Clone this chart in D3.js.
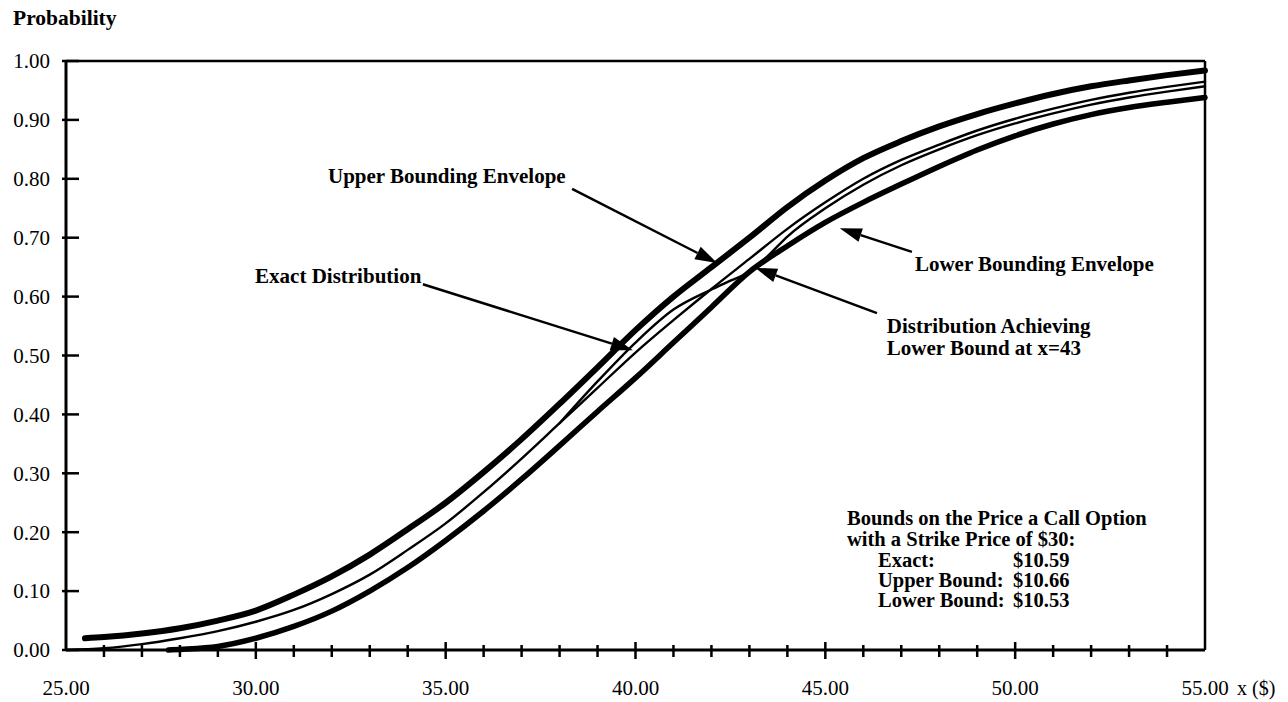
<!DOCTYPE html>
<html>
<head>
<meta charset="utf-8">
<script src="https://cdn.jsdelivr.net/npm/d3@7"></script>
<style>
  body { margin: 0; background: #fff; }
  text { font-family: "Liberation Serif", "Times New Roman", serif; fill: #000; }
  .bold { font-weight: bold; }
</style>
</head>
<body>
<div id="chart"></div>
<script>
// probability curves
var upperX = [25.5, 26, 27, 28, 29, 30, 31, 32, 33, 34, 35, 36, 37, 38, 39, 40,
    41, 42, 43, 44, 45, 46, 47, 48, 49, 50, 51, 52, 53, 54, 55];
var upperP = [0.020, 0.022, 0.028, 0.037, 0.050, 0.067, 0.094, 0.125, 0.162, 0.205, 0.250,
    0.302, 0.358, 0.418, 0.480, 0.543, 0.600, 0.650, 0.700, 0.752, 0.797, 0.835,
    0.864, 0.889, 0.910, 0.928, 0.944, 0.957, 0.967, 0.976, 0.984];

var lowerX = [27.7, 28, 29, 30, 31, 32, 33, 34, 35, 36, 37, 38, 39, 40,
    41, 42, 43, 44, 45, 46, 47, 48, 49, 50, 51, 52, 53, 54, 55];
var lowerP = [0.000, 0.001, 0.006, 0.020, 0.040, 0.066, 0.100, 0.140, 0.186, 0.236,
    0.290, 0.347, 0.405, 0.462, 0.522, 0.582, 0.642, 0.686, 0.726, 0.760, 0.791,
    0.821, 0.849, 0.873, 0.893, 0.909, 0.921, 0.930, 0.938];

var exactX = [25, 26, 27, 28, 29, 30, 31, 32, 33, 34, 35, 36, 37, 38, 39, 40,
    41, 42, 43, 44, 45, 46, 47, 48, 49, 50, 51, 52, 53, 54, 55];
var exactP = [0.000, 0.003, 0.010, 0.020, 0.032, 0.048, 0.068, 0.095, 0.128, 0.170,
    0.215, 0.268, 0.325, 0.385, 0.445, 0.505, 0.560, 0.613, 0.664, 0.715, 0.760,
    0.800, 0.832, 0.858, 0.882, 0.902, 0.919, 0.934, 0.946, 0.956, 0.965];

// distribution achieving the lower bound at x=43 (same as exact below x=38)
var achX = [38, 39, 40, 41, 42, 42.5, 43, 43.5, 44, 45, 46, 47, 48, 49, 50, 51, 52, 53, 54, 55];
var achP = [0.385, 0.456, 0.522, 0.578, 0.612, 0.627, 0.642, 0.670, 0.702, 0.750,
    0.790, 0.823, 0.850, 0.874, 0.894, 0.911, 0.926, 0.938, 0.948, 0.957];

var xTicks = [25, 30, 35, 40, 45, 50, 55];
var yTicks = [0, 0.1, 0.2, 0.3, 0.4, 0.5, 0.6, 0.7, 0.8, 0.9, 1.0];

var boxTitle = ["Bounds on the Price a Call Option", "with a Strike Price of $30:"];
var boxNames = ["Exact:", "Upper Bound:", "Lower Bound:"];
var boxValues = ["$10.59", "$10.66", "$10.53"];

var margin = { top: 61, right: 83, bottom: 52, left: 66 },
    width = 1288 - margin.left - margin.right,
    height = 702 - margin.top - margin.bottom;

var svg = d3.select("#chart")
    .append("svg")
    .attr("width", 1288)
    .attr("height", 702)
    .append("g")
    .attr("transform", "translate(" + margin.left + "," + margin.top + ")");

var x = d3.scaleLinear().domain([25, 55]).range([0, width]);
var y = d3.scaleLinear().domain([0, 1]).range([height, 0]);

// frame: top and right
svg.append("line")
    .attr("x1", 0).attr("x2", width).attr("y1", y(1)).attr("y2", y(1))
    .attr("stroke", "#000").attr("stroke-width", 2.5);
svg.append("line")
    .attr("x1", width).attr("x2", width).attr("y1", y(1)).attr("y2", y(0))
    .attr("stroke", "#000").attr("stroke-width", 2.5);

// curves
var line = d3.line()
    .x(function (d) { return x(d[0]); })
    .y(function (d) { return y(d[1]); })
    .curve(d3.curveMonotoneX);

function pairs(xs, ps) { return xs.map(function (v, i) { return [v, ps[i]]; }); }

var series = [
    { pts: pairs(exactX, exactP), w: 2.4 },
    { pts: pairs(achX, achP), w: 2.4 },
    { pts: pairs(upperX, upperP), w: 6 },
    { pts: pairs(lowerX, lowerP), w: 5.5 }
];

svg.selectAll(".curve")
    .data(series)
    .enter()
    .append("path")
    .attr("class", "curve")
    .attr("d", function (d) { return line(d.pts); })
    .attr("fill", "none")
    .attr("stroke", "#000")
    .attr("stroke-linecap", "round")
    .attr("stroke-width", function (d) { return d.w; });

// x axis with minor ticks every 1
var xAxis = svg.append("g").attr("transform", "translate(0," + height + ")");
xAxis.append("line").attr("x1", 0).attr("x2", width)
    .attr("stroke", "#000").attr("stroke-width", 3);
xAxis.selectAll(".minor")
    .data(d3.range(26, 55))
    .enter()
    .append("line")
    .attr("x1", function (d) { return x(d); })
    .attr("x2", function (d) { return x(d); })
    .attr("y1", function (d) { return d % 5 === 0 ? -8 : -5; })
    .attr("y2", function (d) { return d % 5 === 0 ? 9 : 7; })
    .attr("stroke", "#000").attr("stroke-width", 2.5);
xAxis.selectAll(".xlabel")
    .data(xTicks)
    .enter()
    .append("text")
    .attr("x", function (d) { return x(d); })
    .attr("y", 45)
    .attr("text-anchor", "middle")
    .style("font-size", "21px")
    .text(function (d) { return d.toFixed(2); });
xAxis.append("text")
    .attr("x", x(55) + 32)
    .attr("y", 45)
    .style("font-size", "20px")
    .text("x ($)");

// y axis
var yAxis = svg.append("g");
yAxis.append("line").attr("y1", y(1)).attr("y2", y(0))
    .attr("stroke", "#000").attr("stroke-width", 3);
yAxis.selectAll(".ytick")
    .data(yTicks)
    .enter()
    .append("line")
    .attr("x1", -4).attr("x2", 13)
    .attr("y1", function (d) { return y(d); })
    .attr("y2", function (d) { return y(d); })
    .attr("stroke", "#000").attr("stroke-width", 2.5);
yAxis.selectAll(".ylabel")
    .data(yTicks)
    .enter()
    .append("text")
    .attr("x", -16)
    .attr("y", function (d) { return y(d); })
    .attr("dy", "0.35em")
    .attr("text-anchor", "end")
    .style("font-size", "21px")
    .text(function (d) { return d.toFixed(2); });

svg.append("text")
    .attr("class", "bold")
    .attr("x", 13 - margin.left)
    .attr("y", 25 - margin.top)
    .style("font-size", "21.5px")
    .text("Probability");

// annotations: label position, arrow start and tip in data units
var notes = [
    { lines: ["Upper Bounding Envelope"], tx: 31.9, tp: 0.793, from: [38.33, 0.783], to: [42.15, 0.657] },
    { lines: ["Exact Distribution"], tx: 29.98, tp: 0.623, from: [34.4, 0.621], to: [39.93, 0.509] },
    { lines: ["Lower Bounding Envelope"], tx: 47.36, tp: 0.643, from: [47.28, 0.676], to: [45.38, 0.716] },
    { lines: ["Distribution Achieving", "Lower Bound at x=43"], tx: 46.62, tp: 0.538, from: [46.36, 0.572], to: [43.15, 0.649] }
];

notes.forEach(function (n) {
    var t = svg.append("text")
        .attr("class", "bold")
        .attr("x", x(n.tx))
        .attr("y", y(n.tp))
        .style("font-size", "21px");
    n.lines.forEach(function (s, i) {
        t.append("tspan").attr("x", x(n.tx)).attr("dy", i === 0 ? 0 : 22).text(s);
    });

    var x1 = x(n.from[0]), y1 = y(n.from[1]), x2 = x(n.to[0]), y2 = y(n.to[1]);
    var a = Math.atan2(y2 - y1, x2 - x1), len = 22, hw = 7;
    var bx = x2 - len * Math.cos(a), by = y2 - len * Math.sin(a);
    svg.append("line")
        .attr("x1", x1).attr("y1", y1).attr("x2", bx).attr("y2", by)
        .attr("stroke", "#000").attr("stroke-width", 2.5);
    svg.append("path")
        .attr("d", "M" + x2 + "," + y2 +
            "L" + (bx + hw * Math.sin(a)) + "," + (by - hw * Math.cos(a)) +
            "L" + (bx - hw * Math.sin(a)) + "," + (by + hw * Math.cos(a)) + "Z")
        .attr("fill", "#000");
});

// price box
var box = svg.append("g")
    .attr("transform", "translate(" + (847 - margin.left) + "," + (525 - margin.top) + ")");
boxTitle.forEach(function (s, i) {
    box.append("text").attr("class", "bold")
        .attr("y", i * 21)
        .style("font-size", "20.5px")
        .text(s);
});
boxNames.forEach(function (s, i) {
    box.append("text").attr("class", "bold")
        .attr("x", 31).attr("y", 42 + i * 20)
        .style("font-size", "20.5px")
        .text(s);
    box.append("text").attr("class", "bold")
        .attr("x", 166).attr("y", 42 + i * 20)
        .style("font-size", "20.5px")
        .text(boxValues[i]);
});
</script>
</body>
</html>
